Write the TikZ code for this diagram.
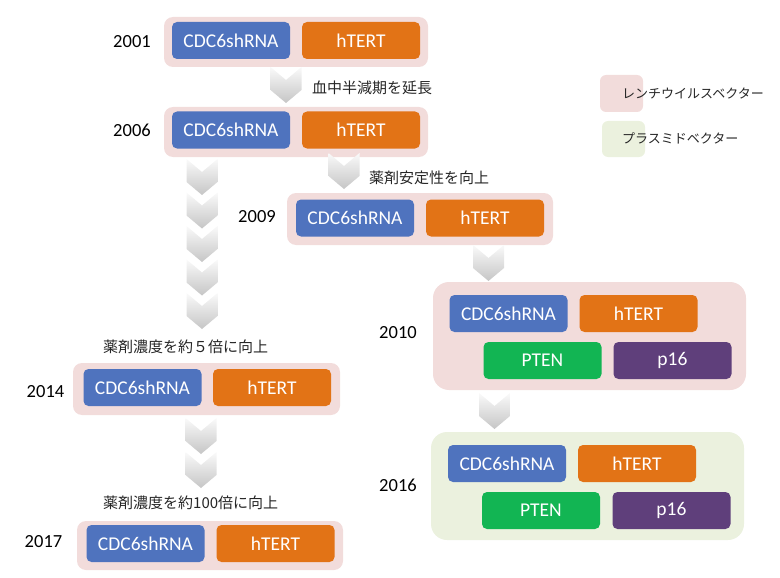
\documentclass[tikz,border=0pt]{standalone}
\usepackage{fontspec}
\setmainfont{Carlito}
\newfontfamily\jpfont{Noto Sans CJK JP}
\definecolor{cblue}{HTML}{4F73BE}
\definecolor{corange}{HTML}{E27316}
\definecolor{cpink}{HTML}{F2DCDB}
\definecolor{cgreenbg}{HTML}{EBF1DE}
\definecolor{cgreen}{HTML}{12B553}
\definecolor{cpurple}{HTML}{5F3F7B}
\tikzset{
  gene/.style={rounded corners=5pt, minimum width=118pt, minimum height=37pt, inner sep=0pt, text=white, font=\fontsize{19.5}{19.5}\selectfont},
  outerbox/.style={rounded corners=9pt, fill=cpink, inner sep=0pt},
  year/.style={font=\fontsize{18.5}{18.5}\selectfont, inner sep=0pt},
  note/.style={font=\jpfont\fontsize{15}{15}\selectfont, anchor=west, inner sep=0pt, text=black!85},
  legtext/.style={font=\jpfont\fontsize{13}{13}\selectfont, anchor=west, inner sep=0pt, text=black!85},
  chev/.pic={\shade[top color=gray!4, bottom color=gray!45] (-15.5,0) -- (0,13) -- (15.5,0) -- (15.5,23) -- (0,36) -- (-15.5,23) -- cycle;}
}
\begin{document}
\begin{tikzpicture}[x=1pt,y=-1pt]
\useasboundingbox (0,0) rectangle (780,578);
% outer boxes
\node[outerbox, minimum width=264pt, minimum height=50pt] (o2001) at (296,42) {};
\node[outerbox, minimum width=264pt, minimum height=50pt] (o2006) at (296,132) {};
\node[outerbox, minimum width=266pt, minimum height=52pt] (o2009) at (420,219) {};
\node[outerbox, minimum width=267pt, minimum height=52pt] (o2014) at (206.5,389) {};
\node[outerbox, minimum width=266pt, minimum height=49pt] (o2017) at (210,545.5) {};
\node[outerbox, rounded corners=16pt, minimum width=313pt, minimum height=108pt] (o2010) at (589.5,336) {};
\node[outerbox, rounded corners=16pt, fill=cgreenbg, minimum width=313pt, minimum height=108pt] (o2016) at (587.5,486) {};
% chevrons
\pic at (286,67) {chev};
\pic at (344,153) {chev};
\foreach \t in {159,192.5,226,259.5,293} {\pic at (202,\t) {chev};}
\pic at (488.5,245) {chev};
\pic at (494.5,393) {chev};
\foreach \t in {418,452} {\pic at (201,\t) {chev};}
% gene boxes
\node[gene, fill=cblue] (b2001) at (231,40.5) {CDC6shRNA};
\node[gene, fill=corange] (h2001) at (361,40.5) {hTERT};
\node[gene, fill=cblue] (b2006) at (231,130) {CDC6shRNA};
\node[gene, fill=corange] (h2006) at (361,130) {hTERT};
\node[gene, fill=cblue] (b2009) at (355,218) {CDC6shRNA};
\node[gene, fill=corange] (h2009) at (485,218) {hTERT};
\node[gene, fill=cblue] (b2010) at (508.5,313.5) {CDC6shRNA};
\node[gene, fill=corange] (h2010) at (638.5,313.5) {hTERT};
\node[gene, fill=cgreen] (p2010) at (542.5,360.5) {PTEN};
\node[gene, fill=cpurple] (q2010) at (672.5,360.5) {p16};
\node[gene, fill=cblue] (b2016) at (507,463.5) {CDC6shRNA};
\node[gene, fill=corange] (h2016) at (637,463.5) {hTERT};
\node[gene, fill=cgreen] (p2016) at (541,510.5) {PTEN};
\node[gene, fill=cpurple] (q2016) at (671.5,510.5) {p16};
\node[gene, fill=cblue] (b2014) at (142.5,387.5) {CDC6shRNA};
\node[gene, fill=corange] (h2014) at (272,387.5) {hTERT};
\node[gene, fill=cblue] (b2017) at (145.5,543.5) {CDC6shRNA};
\node[gene, fill=corange] (h2017) at (275.5,543.5) {hTERT};
% years
\node[year] (y2001) at (132,42) {2001};
\node[year] (y2006) at (132,130) {2006};
\node[year] (y2009) at (257,217) {2009};
\node[year] (y2010) at (398,333) {2010};
\node[year] (y2016) at (398,485) {2016};
\node[year] (y2014) at (45.5,392) {2014};
\node[year] (y2017) at (43.5,542) {2017};
% notes
\node[note] (n1) at (312,88) {血中半減期を延長};
\node[note] (n2) at (369,178) {薬剤安定性を向上};
\node[note] (n3) at (103,347) {薬剤濃度を約５倍に向上};
\node[note] (n4) at (103,503) {薬剤濃度を約100倍に向上};
% legend
\node[fill=cpink, rounded corners=6pt, minimum width=43pt, minimum height=37pt, inner sep=0pt] (leg1) at (621.5,93.5) {};
\node[fill=cgreenbg, rounded corners=6pt, minimum width=43pt, minimum height=36pt, inner sep=0pt] (leg2) at (623.5,139) {};
\node[legtext] (lt1) at (622,93) {レンチウイルスベクター};
\node[legtext] (lt2) at (622,138) {プラスミドベクター};
\end{tikzpicture}
\end{document}
